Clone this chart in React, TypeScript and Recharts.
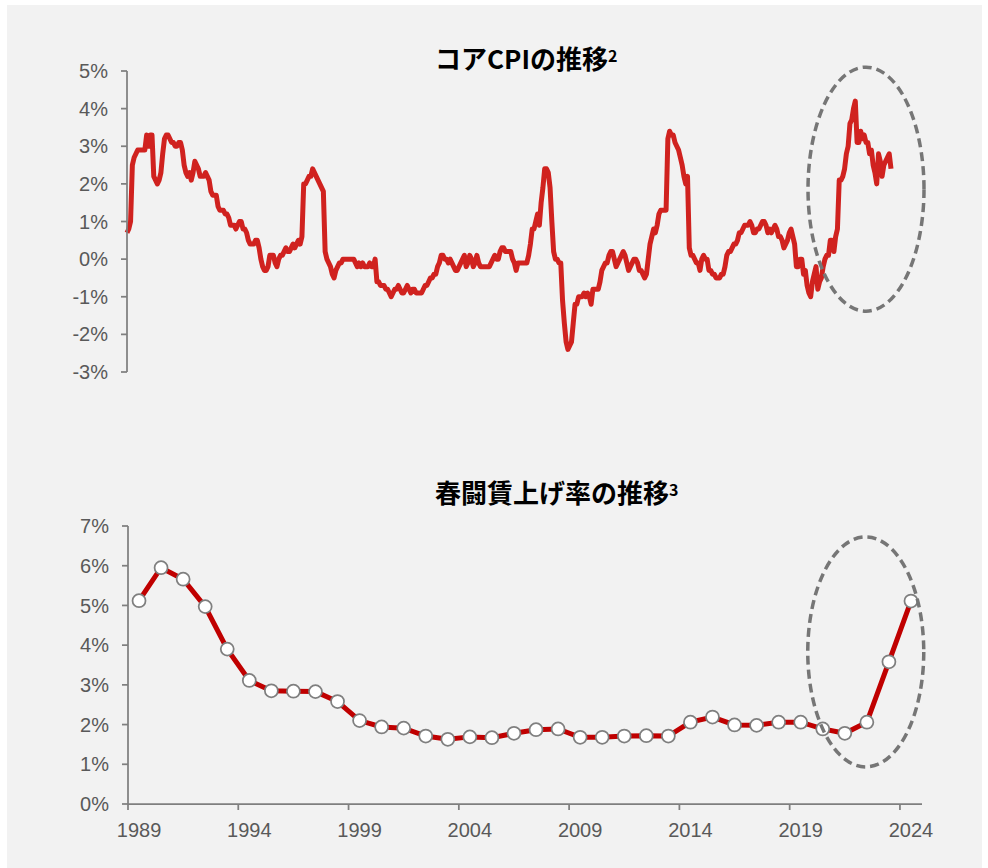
import React from 'react';
import { LineChart, Line, XAxis, YAxis, ReferenceDot } from 'recharts';

// コアCPI 前年比(%) 月次: 1989年1月〜2024年9月
const cpi1989to1993 = [
  0.7, 0.8, 1.0, 2.5, 2.7, 2.8, 2.9, 2.9, 2.9, 2.9, 2.9, 3.3,
  3.0, 3.3, 3.3, 2.2, 2.1, 2.0, 2.1, 2.3, 2.8, 3.2, 3.3, 3.3,
  3.2, 3.1, 3.1, 3.0, 3.0, 3.1, 3.1, 2.9, 2.5, 2.3, 2.2, 2.3,
  2.1, 2.3, 2.6, 2.5, 2.4, 2.2, 2.2, 2.2, 2.3, 2.2, 2.1, 1.8,
  1.7, 1.7, 1.7, 1.4, 1.3, 1.3, 1.3, 1.2, 1.2, 1.1, 0.9, 0.9,
];
const cpi1994to1998 = [
  0.9, 0.8, 0.9, 1.0, 1.0, 0.8, 0.8, 0.7, 0.5, 0.4, 0.4, 0.4,
  0.5, 0.5, 0.3, 0.0, -0.2, -0.3, -0.3, -0.2, 0.1, 0.1, 0.1, -0.1,
  -0.2, 0.0, 0.1, 0.1, 0.2, 0.3, 0.2, 0.2, 0.3, 0.4, 0.3, 0.4,
  0.5, 0.4, 0.6, 2.0, 2.0, 2.1, 2.2, 2.2, 2.4, 2.3, 2.2, 2.1,
  2.0, 1.9, 1.8, 0.2, 0.0, -0.1, -0.2, -0.4, -0.5, -0.3, -0.2, -0.1,
];
const cpi1999to2003 = [
  -0.1, 0.0, 0.0, 0.0, 0.0, 0.0, 0.0, 0.0, -0.1, -0.2, -0.1, -0.2,
  -0.1, -0.2, -0.2, -0.2, -0.1, -0.2, -0.2, 0.0, -0.6, -0.6, -0.7, -0.7,
  -0.7, -0.8, -0.8, -0.9, -1.0, -0.9, -0.8, -0.8, -0.7, -0.8, -0.9, -0.9,
  -0.8, -0.7, -0.8, -0.9, -0.8, -0.8, -0.9, -0.9, -0.9, -0.9, -0.8, -0.7,
  -0.7, -0.6, -0.5, -0.5, -0.4, -0.4, -0.2, -0.1, 0.1, 0.1, 0.0, 0.0,
];
const cpi2004to2008 = [
  -0.1, 0.0, -0.1, -0.2, -0.3, -0.3, -0.2, -0.1, 0.0, 0.1, -0.2, -0.1,
  0.1, 0.0, -0.2, -0.1, 0.1, -0.1, -0.2, -0.2, -0.2, -0.2, -0.2, -0.2,
  -0.1, 0.0, 0.1, 0.0, 0.0, 0.2, 0.3, 0.3, 0.2, 0.2, 0.2, 0.2,
  0.0, -0.1, -0.3, -0.1, -0.1, -0.1, -0.1, -0.1, -0.1, 0.1, 0.4, 0.8,
  0.8, 1.0, 1.2, 0.9, 1.5, 1.9, 2.4, 2.4, 2.3, 1.9, 1.0, 0.2,
];
const cpi2009to2013 = [
  0.0, 0.0, -0.1, -0.1, -1.1, -1.7, -2.2, -2.4, -2.3, -2.2, -1.7, -1.2,
  -1.2, -1.0, -1.0, -1.0, -0.9, -1.0, -0.9, -1.0, -1.2, -0.8, -0.8, -0.8,
  -0.8, -0.6, -0.3, -0.2, -0.1, -0.1, 0.1, 0.2, 0.2, 0.0, -0.2, -0.1,
  0.0, 0.1, 0.2, 0.1, -0.1, -0.3, -0.2, -0.1, 0.0, 0.0, -0.1, -0.3,
  -0.3, -0.4, -0.5, -0.4, 0.0, 0.4, 0.6, 0.8, 0.7, 0.9, 1.2, 1.3,
];
const cpi2014to2018 = [
  1.3, 1.3, 1.3, 3.2, 3.4, 3.3, 3.3, 3.1, 3.0, 2.9, 2.7, 2.5,
  2.2, 2.0, 2.2, 0.3, 0.1, 0.1, 0.0, -0.1, -0.1, -0.3, 0.0, 0.1,
  0.0, 0.0, -0.3, -0.3, -0.4, -0.4, -0.5, -0.5, -0.5, -0.4, -0.4, -0.2,
  0.1, 0.2, 0.2, 0.3, 0.4, 0.4, 0.5, 0.7, 0.7, 0.8, 0.9, 0.9,
  0.9, 1.0, 0.9, 0.7, 0.7, 0.8, 0.8, 0.9, 1.0, 1.0, 0.9, 0.7,
];
const cpi2019to2024 = [
  0.8, 0.7, 0.8, 0.9, 0.8, 0.6, 0.6, 0.5, 0.3, 0.4, 0.5, 0.7,
  0.8, 0.6, 0.4, -0.2, -0.2, 0.0, 0.0, -0.4, -0.3, -0.7, -0.9, -1.0,
  -0.6, -0.4, -0.2, -0.8, -0.6, -0.5, -0.2, 0.0, 0.1, 0.1, 0.5, 0.5,
  0.2, 0.6, 0.8, 2.1, 2.1, 2.2, 2.4, 2.8, 3.0, 3.6, 3.7, 4.0,
  4.2, 3.1, 3.1, 3.4, 3.2, 3.3, 3.1, 3.1, 2.8, 2.9, 2.5, 2.3,
  2.0, 2.8, 2.6, 2.2, 2.5, 2.6, 2.7, 2.8, 2.4,
];
const cpiTicks = [-3, -2, -1, 0, 1, 2, 3, 4, 5];

// 春闘賃上げ率(%)
const wageYears = [
  1989, 1990, 1991, 1992, 1993, 1994, 1995, 1996, 1997, 1998, 1999, 2000,
  2001, 2002, 2003, 2004, 2005, 2006, 2007, 2008, 2009, 2010, 2011, 2012,
  2013, 2014, 2015, 2016, 2017, 2018, 2019, 2020, 2021, 2022, 2023, 2024,
];
const wageRates = [
  5.12, 5.95, 5.66, 4.97, 3.9, 3.11, 2.85, 2.84, 2.83, 2.58, 2.1, 1.94,
  1.91, 1.71, 1.63, 1.69, 1.67, 1.78, 1.87, 1.89, 1.68, 1.68, 1.71, 1.72,
  1.71, 2.06, 2.19, 1.99, 1.98, 2.06, 2.06, 1.89, 1.78, 2.06, 3.58, 5.11,
];
const wageTicks = [0, 1, 2, 3, 4, 5, 6, 7];
const yearTicks = [1989, 1994, 1999, 2004, 2009, 2014, 2019, 2024];

const cpiData = [
  ...cpi1989to1993, ...cpi1994to1998, ...cpi1999to2003, ...cpi2004to2008,
  ...cpi2009to2013, ...cpi2014to2018, ...cpi2019to2024,
].map((v, i) => ({ i, v }));
const wageData = wageYears.map((year, idx) => ({ year, rate: wageRates[idx] }));

const AXIS = '#7f7f7f';
const LABEL = '#595959';
const FONT = '"Liberation Sans", Arial, sans-serif';
const tickStyle = { fontSize: 20, fill: LABEL, fontFamily: FONT };

// bottom chart geometry
const W_HEIGHT = 428;
const W_MARGIN = { top: 86, right: 66, bottom: 24, left: 68 };
const W_XAXIS_H = 40;
const wageAxisY = W_HEIGHT - W_MARGIN.bottom - W_XAXIS_H;
const wagePlotW = 988 - W_MARGIN.left - 60 - W_MARGIN.right;
const halfBand = wagePlotW / wageYears.length / 2;

const YearTick = (props: any) => {
  const { x, payload } = props;
  return (
    <g>
      <line x1={x - halfBand} x2={x - halfBand} y1={wageAxisY} y2={wageAxisY + 6} stroke={AXIS} strokeWidth={1.75} />
      <text x={x} y={wageAxisY + 33} textAnchor="middle" {...tickStyle}>{payload.value}</text>
    </g>
  );
};

const dashedEllipse = (rx: number, ry: number) => (p: any) => (
  <ellipse cx={p.cx} cy={p.cy} rx={rx} ry={ry} fill="none" stroke="#767676" strokeWidth={3.5} strokeDasharray="9 5" />
);

const titleStyle: React.CSSProperties = {
  position: 'absolute', left: 435, fontFamily: '"Noto Sans CJK JP", sans-serif', fontWeight: 700,
  fontSize: 26, lineHeight: '26px', color: '#000', whiteSpace: 'nowrap',
};
const supStyle: React.CSSProperties = { fontSize: 16, verticalAlign: 'top', position: 'relative', top: -3 };

export default function App() {
  return (
    <div style={{ position: 'absolute', left: 0, top: 0, width: 988, height: 868, background: '#fff' }}>
      <style>{'body{margin:0}'}</style>
      <div style={{ position: 'absolute', left: 7, top: 5, width: 975, height: 863, background: '#f2f2f2' }} />

      <div style={{ ...titleStyle, top: 45 }}>コアCPIの推移<span style={supStyle}>2</span></div>
      <div style={{ position: 'absolute', left: 0, top: 0 }}>
        <LineChart width={988} height={400} data={cpiData} margin={{ top: 71, right: 97, bottom: 28, left: 67 }}>
          <XAxis dataKey="i" type="number" domain={[0, cpiData.length - 1]} hide />
          <YAxis
            type="number" domain={[-3, 5]} ticks={cpiTicks} interval={0} width={60}
            tickFormatter={(v: number) => `${v}%`} tick={tickStyle} tickMargin={13}
            axisLine={{ stroke: AXIS, strokeWidth: 1.75 }} tickLine={{ stroke: AXIS, strokeWidth: 1.75 }}
          />
          <Line
            dataKey="v" type="linear" stroke="#d0221f" strokeWidth={5} dot={false}
            strokeLinejoin="round" isAnimationActive={false}
          />
          <ReferenceDot x={414} y={1.86} r={0} shape={dashedEllipse(58, 122)} />
        </LineChart>
      </div>

      <div style={{ ...titleStyle, top: 479 }}>春闘賃上げ率の推移<span style={supStyle}>3</span></div>
      <div style={{ position: 'absolute', left: 0, top: 440 }}>
        <LineChart width={988} height={W_HEIGHT} data={wageData} margin={W_MARGIN}>
          <XAxis
            dataKey="year" type="number" domain={[1988.5, 2024.5]} ticks={yearTicks} interval={0}
            height={W_XAXIS_H} tick={<YearTick />} tickLine={false}
            axisLine={{ stroke: AXIS, strokeWidth: 1.75 }}
          />
          <YAxis
            type="number" domain={[0, 7]} ticks={wageTicks} interval={0} width={60}
            tickFormatter={(v: number) => `${v}%`} tick={tickStyle} tickMargin={13}
            axisLine={{ stroke: AXIS, strokeWidth: 1.75 }} tickLine={{ stroke: AXIS, strokeWidth: 1.75 }}
          />
          <Line
            dataKey="rate" type="linear" stroke="#c00000" strokeWidth={5}
            dot={{ r: 6.5, fill: '#ffffff', stroke: '#7f7f7f', strokeWidth: 1.75 }}
            isAnimationActive={false}
          />
          <ReferenceDot x={2021.95} y={3.83} r={0} shape={dashedEllipse(58, 115)} />
        </LineChart>
      </div>
    </div>
  );
}
